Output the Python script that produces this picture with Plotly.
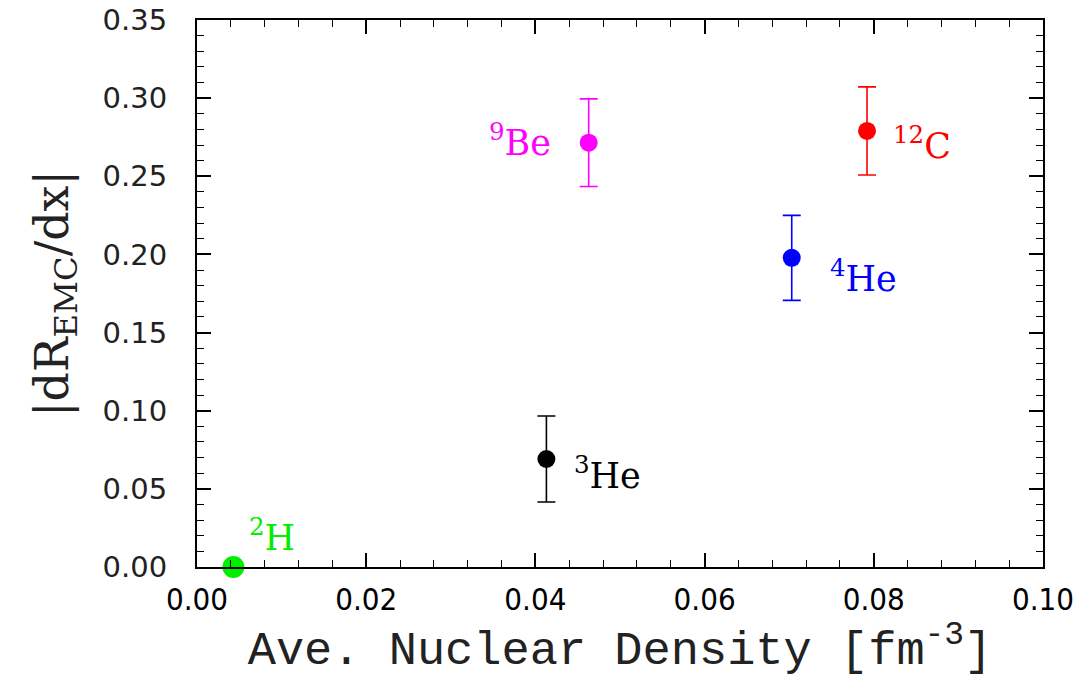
import plotly.graph_objects as go

nuclei = ["2H", "3He", "4He", "9Be", "12C"]
mass_number = ["2", "3", "4", "9", "12"]
element = ["H", "He", "He", "Be", "C"]
density = [0.0043, 0.0413, 0.0703, 0.0463, 0.0792]
slope = [0.0, 0.0691, 0.1978, 0.2715, 0.2790]
slope_err = [0.0, 0.0275, 0.0272, 0.0280, 0.0282]
colors = ["#00ee00", "#000000", "#0000ff", "#ff00ff", "#ff0000"]

# label placement (pixel offsets from point): xanchor, dx, dy
label_style = {
    "2H": ("left", 14, -32),
    "3He": ("left", 26, 14),
    "4He": ("left", 36, 18),
    "9Be": ("right", -36, -3),
    "12C": ("left", 24, 12),
}

fig = go.Figure()
for i, n in enumerate(nuclei):
    fig.add_trace(go.Scatter(
        x=[density[i]], y=[slope[i]], mode="markers",
        marker=dict(color=colors[i], size=22 if n == "2H" else 18, line=dict(width=0)),
        error_y=dict(type="data", array=[slope_err[i]], visible=slope_err[i] > 0,
                     color=colors[i], thickness=1.6, width=9),
        cliponaxis=False, showlegend=False,
    ))
    anchor, dx, dy = label_style[n]
    fig.add_annotation(
        x=density[i], y=slope[i], xref="x", yref="y",
        text=f"<sup>{mass_number[i]}</sup>{element[i]}",
        showarrow=False, xanchor=anchor, yanchor="middle",
        xshift=dx, yshift=-dy,
        font=dict(family="DejaVu Serif", size=35, color=colors[i]),
    )

fig.update_layout(
    width=1090, height=676,
    margin=dict(l=189, r=55, t=12, b=117, autoexpand=False),
    paper_bgcolor="white", plot_bgcolor="white",
)
fig.update_xaxes(
    range=[0, 0.1], tick0=0, dtick=0.02, tickformat=".2f", automargin=False,
    ticks="inside", ticklen=14, tickwidth=1.5, tickcolor="black",
    minor=dict(dtick=0.004, ticks="inside", ticklen=7, tickwidth=1.2, tickcolor="black"),
    showline=True, linecolor="black", linewidth=2, mirror="ticks",
    showgrid=False, zeroline=False, ticklabelstandoff=4, ticklabeloverflow="allow",
    tickfont=dict(family="Liberation Sans Narrow, DejaVu Sans Condensed", size=31, color="black"),
    title=dict(text="Ave. Nuclear Density [fm<sup>-3</sup>]", standoff=6,
               font=dict(family="Liberation Mono", size=47, color="#222")),
)
fig.update_yaxes(
    range=[0, 0.35], tick0=0, dtick=0.05, tickformat=".2f", automargin=False,
    ticks="inside", ticklen=14, tickwidth=1.5, tickcolor="black",
    minor=dict(dtick=0.01, ticks="inside", ticklen=7, tickwidth=1.2, tickcolor="black"),
    showline=True, linecolor="black", linewidth=2, mirror="ticks",
    showgrid=False, zeroline=False, ticklabelstandoff=22, ticklabeloverflow="allow",
    tickfont=dict(family="DejaVu Sans", size=29, color="#222"),
    title=dict(text="|dR<sub>EMC</sub>/dx|", standoff=20,
               font=dict(family="DejaVu Serif", size=46, color="#222")),
)

fig.write_html("out.html")
